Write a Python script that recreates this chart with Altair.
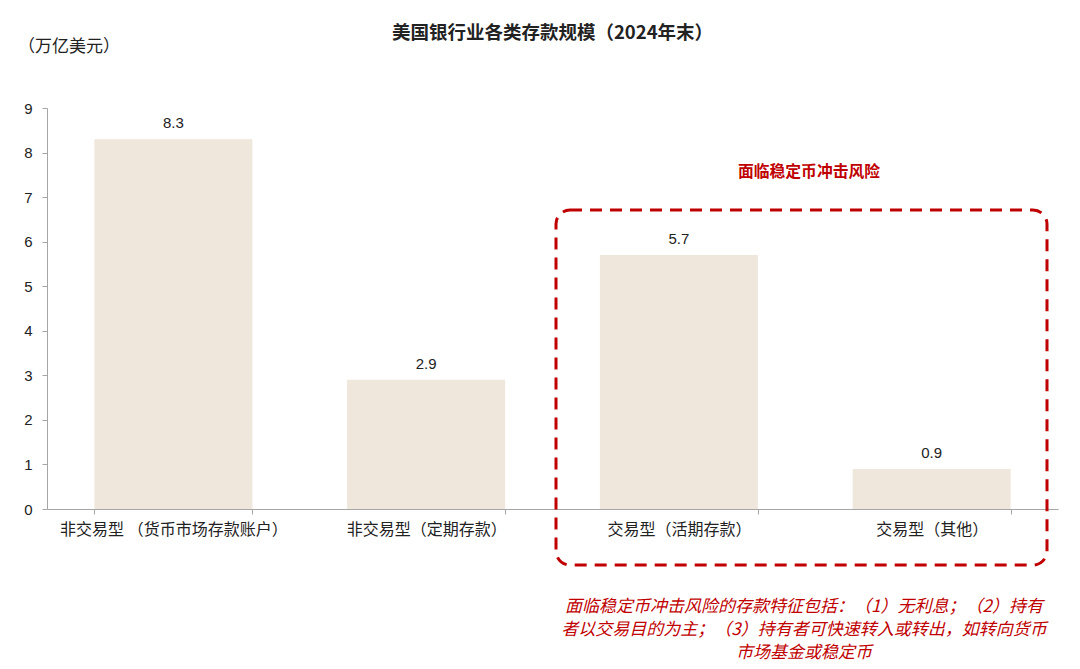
import altair as alt
import pandas as pd

categories = ["非交易型 （货币市场存款账户）", "非交易型（定期存款）", "交易型（活期存款）", "交易型（其他）"]
values = [8.3, 2.9, 5.7, 0.9]
value_labels = ["8.3", "2.9", "5.7", "0.9"]
y_ticks = [0, 1, 2, 3, 4, 5, 6, 7, 8, 9]

title_text = ["美国银行业各类存款规模（2024年末）"]
unit_text = ["（万亿美元）"]
risk_text = ["面临稳定币冲击风险"]
note_lines = [
    "面临稳定币冲击风险的存款特征包括：（1）无利息；（2）持有",
    "者以交易目的为主；（3）持有者可快速转入或转出，如转向货币",
    "市场基金或稳定币",
]

CJK = "Noto Sans CJK SC"
NUM = "Liberation Sans"
RED = "#C00000"
BAR = "#EFE6DC"
AXIS = "#A6A6A6"

W, H = 1011, 401

df = pd.DataFrame({"category": categories, "value": values, "label": value_labels})

x = alt.X(
    "category:N",
    sort=categories,
    title=None,
    scale=alt.Scale(paddingInner=0.375, paddingOuter=0.1875),
    axis=alt.Axis(
        labelAngle=0,
        tickBand="extent",
        domainColor=AXIS,
        tickColor=AXIS,
        tickSize=5,
        labelPadding=7,
        labelFont=CJK,
        labelFontSize=16,
        labelLimit=400,
        labelColor="#222222",
        grid=False,
    ),
)
y = alt.Y(
    "value:Q",
    title=None,
    scale=alt.Scale(domain=[0, 9], nice=False),
    axis=alt.Axis(
        values=y_ticks,
        format="d",
        domainColor=AXIS,
        tickColor=AXIS,
        tickSize=5,
        labelPadding=10,
        labelFont=NUM,
        labelFontSize=15,
        labelColor="#222222",
        grid=False,
    ),
)

bars = alt.Chart(df).mark_bar(color=BAR).encode(x=x, y=y)
bar_text = alt.Chart(df).mark_text(
    baseline="bottom", dy=-8, font=NUM, fontSize=15, color="#222222"
).encode(x=x, y=y, text="label:N")

title = alt.Chart(pd.DataFrame({"t": title_text})).mark_text(
    font=CJK, fontSize=18.5, fontWeight="bold", color="#222222", align="center", baseline="middle"
).encode(x=alt.value(W / 2), y=alt.value(-75), text="t:N")

unit = alt.Chart(pd.DataFrame({"t": unit_text})).mark_text(
    font=CJK, fontSize=17, color="#222222", align="left", baseline="middle"
).encode(x=alt.value(-29), y=alt.value(-61), text="t:N")

risk = alt.Chart(pd.DataFrame({"t": risk_text})).mark_text(
    font=CJK, fontSize=15.8, fontWeight="bold", color=RED, align="center", baseline="middle"
).encode(x=alt.value(762), y=alt.value(64), text="t:N")

box = alt.Chart(pd.DataFrame({"a": [0]})).mark_rect(
    filled=False, stroke=RED, strokeWidth=3, strokeDash=[12, 8], cornerRadius=14
).encode(x=alt.value(509), x2=alt.value(1000), y=alt.value(102), y2=alt.value(457))

note = alt.Chart(pd.DataFrame({"t": ["\n".join(note_lines)]})).mark_text(
    font=CJK, fontSize=17, fontStyle="italic", color=RED, align="center",
    baseline="middle", lineBreak="\n", lineHeight=23
).encode(x=alt.value(757), y=alt.value(499), text="t:N")

chart = alt.layer(bars, bar_text, box, risk, title, unit, note).properties(
    width=W,
    height=H,
    padding={"left": 39, "top": 100, "right": 14, "bottom": 155},
    autosize=alt.AutoSizeParams(type="none"),
).configure_view(stroke=None)

chart.save("out.html", embed_options={"renderer": "svg", "actions": False})
